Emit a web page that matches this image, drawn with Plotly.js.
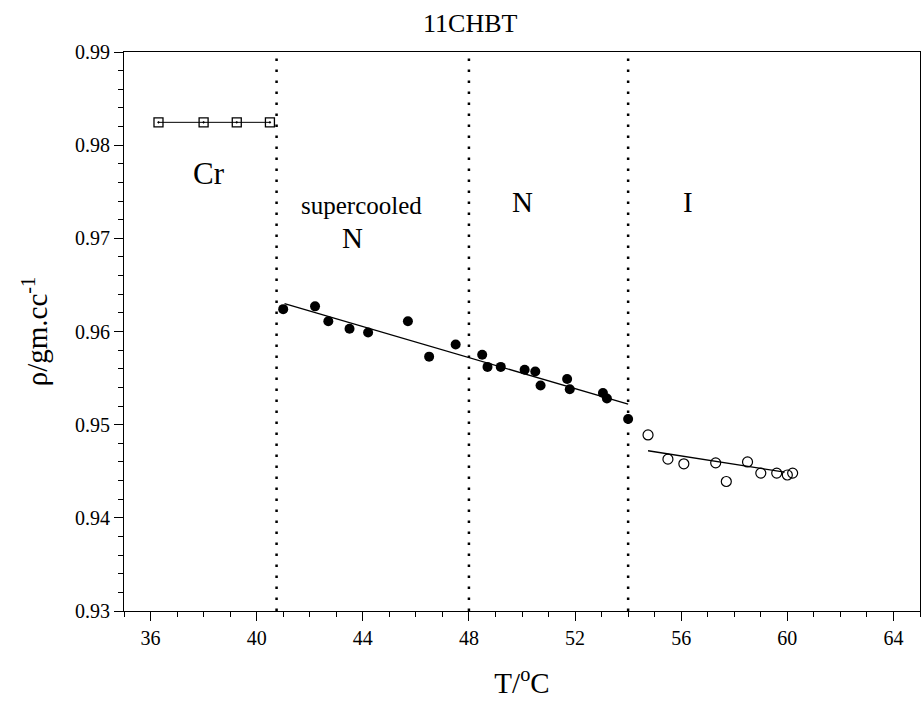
<!DOCTYPE html>
<html>
<head>
<meta charset="utf-8">
<script src="https://cdn.plot.ly/plotly-3.0.1.min.js"></script>
<style>html,body{margin:0;padding:0;background:#fff;}#chart{width:922px;height:710px;}</style>
</head>
<body>
<div id="chart"></div>
<script>
// Crystal phase (Cr)
const crT = [36.3, 38.0, 39.25, 40.5];
const crRho = [0.98245, 0.98245, 0.98245, 0.98245];
// Nematic (supercooled + N), filled circles
const nT = [41.0, 42.2, 42.7, 43.5, 44.2, 45.7, 46.5, 47.5, 48.5, 48.7, 49.2, 50.1, 50.5, 50.7, 51.7, 51.8, 53.05, 53.2, 54.0];
const nRho = [0.9624, 0.9627, 0.9611, 0.9603, 0.9599, 0.9611, 0.9573, 0.9586, 0.9575, 0.9562, 0.9562, 0.9559, 0.9557, 0.9542, 0.9549, 0.9538, 0.9534, 0.9528, 0.9506];
// Isotropic (I), open circles
const iT = [54.75, 55.5, 56.1, 57.3, 57.7, 58.5, 59.0, 59.6, 60.0, 60.2];
const iRho = [0.9489, 0.9463, 0.9458, 0.9459, 0.9439, 0.9460, 0.9448, 0.9448, 0.9446, 0.9448];
// Linear fit lines (endpoints)
const nFitT = [41.05, 54.0];
const nFitRho = [0.9630, 0.9522];
const iFitT = [54.75, 59.9];
const iFitRho = [0.9472, 0.9449];
// Phase transition temperatures
const transitionT = [40.75, 48.0, 54.0];
const yRange = [0.93, 0.99];
// Axis ticks
const xTicks = [36, 40, 44, 48, 52, 56, 60, 64];
const yTicks = [0.93, 0.94, 0.95, 0.96, 0.97, 0.98, 0.99];
const yTickText = ['0.93', '0.94', '0.95', '0.96', '0.97', '0.98', '0.99'];
// Phase labels
const phaseLabels = ['Cr', 'supercooled', 'N', 'N', 'I'];

const serif = "Liberation Serif";
const traces = [];
transitionT.forEach(t => {
  traces.push({x: [t, t], y: yRange, mode: 'lines', showlegend: false, hoverinfo: 'skip',
    line: {color: '#000', width: 2.5, dash: '2.5px,8.5px'}});
});
traces.push({x: crT, y: crRho, mode: 'lines+markers', showlegend: false,
  line: {color: '#000', width: 1},
  marker: {symbol: 'square-open-dot', size: 9, color: '#000', line: {width: 1.3, color: '#000'}}});
traces.push({x: nFitT, y: nFitRho, mode: 'lines', showlegend: false, line: {color: '#000', width: 1.3}});
traces.push({x: iFitT, y: iFitRho, mode: 'lines', showlegend: false, line: {color: '#000', width: 1.3}});
traces.push({x: nT, y: nRho, mode: 'markers', showlegend: false,
  marker: {symbol: 'circle', size: 10, color: '#000'}});
traces.push({x: iT, y: iRho, mode: 'markers', showlegend: false,
  marker: {symbol: 'circle-open', size: 10, color: '#000', line: {width: 1.2, color: '#000'}}});

const layout = {
  width: 922, height: 710,
  margin: {l: 124, r: 2, t: 52, b: 99},
  paper_bgcolor: '#fff', plot_bgcolor: '#fff',
  showlegend: false,
  font: {family: serif, color: '#000', size: 20},
  title: {text: '11CHBT', x: 0.51, xanchor: 'center', y: 0.968, yanchor: 'middle', font: {family: serif, size: 26, color: '#000'}},
  xaxis: {
    range: [35, 65], tickmode: 'array', tickvals: xTicks,
    ticks: 'outside', ticklen: 9, tickwidth: 1, tickcolor: '#000',
    minor: {tickmode: 'linear', tick0: 35, dtick: 1, ticks: 'outside', ticklen: 5, tickcolor: '#000', showgrid: false},
    showgrid: false, zeroline: false, showline: true, linecolor: '#000', linewidth: 1, mirror: true,
    tickfont: {family: serif, size: 20, color: '#000'},
    title: {text: 'T/<sup>o</sup>C', font: {family: serif, size: 29, color: '#000'}, standoff: 24}
  },
  yaxis: {
    range: yRange, tickmode: 'array', tickvals: yTicks, ticktext: yTickText,
    ticks: 'outside', ticklen: 9, tickwidth: 1, tickcolor: '#000',
    minor: {tickmode: 'linear', tick0: 0.93, dtick: 0.002, ticks: 'outside', ticklen: 5, tickcolor: '#000', showgrid: false},
    showgrid: false, zeroline: false, showline: true, linecolor: '#000', linewidth: 1, mirror: true,
    tickfont: {family: serif, size: 20, color: '#000'},
    title: {text: 'ρ/gm.cc<sup>-1</sup>', font: {family: serif, size: 29, color: '#000'}, standoff: 18}
  },
  annotations: [
    {x: 38.2, y: 0.9770, text: phaseLabels[0], showarrow: false, font: {family: serif, size: 31, color: '#000'}},
    {x: 43.95, y: 0.9735, text: phaseLabels[1], showarrow: false, font: {family: serif, size: 25, color: '#000'}},
    {x: 43.6, y: 0.9700, text: phaseLabels[2], showarrow: false, font: {family: serif, size: 29, color: '#000'}},
    {x: 50.0, y: 0.9739, text: phaseLabels[3], showarrow: false, font: {family: serif, size: 29, color: '#000'}},
    {x: 56.25, y: 0.9739, text: phaseLabels[4], showarrow: false, font: {family: serif, size: 29, color: '#000'}}
  ]
};
Plotly.newPlot('chart', traces, layout, {displayModeBar: false, staticPlot: true});
</script>
</body>
</html>
